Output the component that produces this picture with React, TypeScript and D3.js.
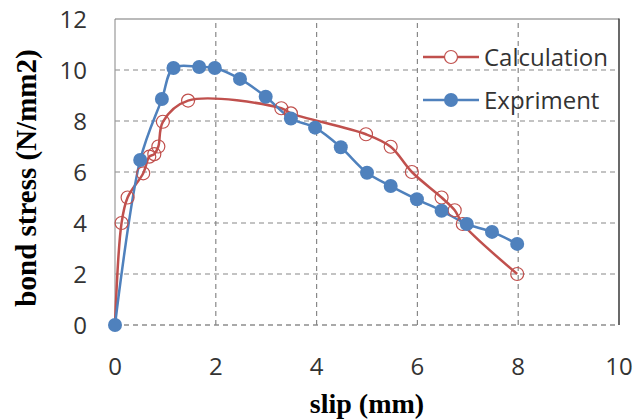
import * as d3 from "d3";

const W = 633;
const H = 419;
const M = { left: 115, right: 14, top: 19, bottom: 94 };

const calcX = [0, 0.13, 0.25, 0.56, 0.68, 0.78, 0.86, 0.95, 1.45, 3.3, 3.49, 4.98, 5.47, 5.89, 6.48, 6.74, 6.9, 7.98];
const calcY = [0, 4.0, 5.0, 5.95, 6.6, 6.7, 7.0, 7.97, 8.8, 8.5, 8.3, 7.48, 6.99, 6.0, 5.0, 4.5, 3.96, 2.0];
const expX = [0, 0.5, 0.93, 1.16, 1.67, 1.98, 2.48, 2.99, 3.49, 3.97, 4.48, 5.0, 5.47, 5.99, 6.48, 6.98, 7.48, 7.98];
const expY = [0, 6.47, 8.86, 10.08, 10.12, 10.08, 9.65, 8.95, 8.1, 7.74, 6.97, 5.97, 5.45, 4.93, 4.48, 3.96, 3.65, 3.18];
const xTicks = [0, 2, 4, 6, 8, 10];
const yTicks = [0, 2, 4, 6, 8, 10, 12];

const RED = "#c0504d";
const BLUE = "#4f81bd";
const TICK_FONT = "'Open Sans', sans-serif";
const TITLE_FONT = "'Liberation Serif', 'Times New Roman', serif";

const App = () => {
  const x = d3.scaleLinear().domain([0, 10]).range([M.left, W - M.right]);
  const y = d3.scaleLinear().domain([0, 12]).range([H - M.bottom, M.top]);

  const line = d3
    .line<[number, number]>()
    .x((d) => x(d[0]))
    .y((d) => y(d[1]))
    .curve(d3.curveCatmullRom.alpha(0.5));

  const calc: [number, number][] = calcX.map((v, i) => [v, calcY[i]]);
  const exp: [number, number][] = expX.map((v, i) => [v, expY[i]]);

  const x0 = x(0), x1 = x(10), y0 = y(0), y1 = y(12);

  return (
    <svg
      width={W}
      height={H}
      style={{ position: "absolute", left: 0, top: 0, background: "#fff" }}
    >
      {/* grid */}
      {yTicks.slice(0, -1).map((t) => (
        <line key={"gy" + t} x1={x0} x2={x1} y1={y(t)} y2={y(t)}
          stroke={t === 0 ? "#555" : "#888"} strokeWidth={1.2} strokeDasharray="5,4" />
      ))}
      {xTicks.slice(1, -1).map((t) => (
        <line key={"gx" + t} x1={x(t)} x2={x(t)} y1={y0} y2={y1}
          stroke="#888" strokeWidth={1.2} strokeDasharray="5,4" />
      ))}
      <line x1={x0} x2={x0} y1={y0} y2={y1} stroke="#999" strokeWidth={1.2} />
      <line x1={x0} x2={x1} y1={y1} y2={y1} stroke="#777" strokeWidth={1.2} />
      <line x1={x1} x2={x1} y1={y1 - 0.6} y2={y0} stroke="#444" strokeWidth={1.6} />

      {/* tick labels */}
      {yTicks.map((t) => (
        <text key={"ly" + t} x={87} y={y(t)} dy="0.36em" textAnchor="end"
          fontFamily={TICK_FONT} fontSize={24} fill="#333">{t}</text>
      ))}
      {xTicks.map((t) => (
        <text key={"lx" + t} x={x(t)} y={375} textAnchor="middle"
          fontFamily={TICK_FONT} fontSize={24} fill="#333">{t}</text>
      ))}

      {/* series */}
      <path d={line(calc) ?? ""} fill="none" stroke={RED} strokeWidth={2.5} />
      <path d={line(exp) ?? ""} fill="none" stroke={BLUE} strokeWidth={2.5} />
      {calc.slice(1).map((d, i) => (
        <circle key={"c" + i} cx={x(d[0])} cy={y(d[1])} r={6.5}
          fill="none" stroke={RED} strokeWidth={1.2} />
      ))}
      {exp.map((d, i) => (
        <circle key={"e" + i} cx={x(d[0])} cy={y(d[1])} r={7} fill={BLUE} />
      ))}

      {/* legend */}
      <line x1={423} x2={479} y1={57} y2={57} stroke={RED} strokeWidth={2.5} />
      <circle cx={451} cy={57} r={6.5} fill="#fff" stroke={RED} strokeWidth={1.2} />
      <text x={484} y={66} fontFamily={TICK_FONT} fontSize={24} fill="#333">Calculation</text>
      <line x1={423} x2={479} y1={100} y2={100} stroke={BLUE} strokeWidth={2.5} />
      <circle cx={451} cy={100} r={7} fill={BLUE} />
      <text x={484} y={109} fontFamily={TICK_FONT} fontSize={24} fill="#333">Expriment</text>

      {/* axis titles */}
      <text x={(x0 + x1) / 2} y={413} textAnchor="middle" fontFamily={TITLE_FONT}
        fontWeight="bold" fontSize={28} fill="#000">slip (mm)</text>
      <text transform="translate(36,178) rotate(-90)" textAnchor="middle"
        fontFamily={TITLE_FONT} fontWeight="bold" fontSize={29} fill="#000">
        bond stress (N/mm2)
      </text>
    </svg>
  );
};

export default App;
